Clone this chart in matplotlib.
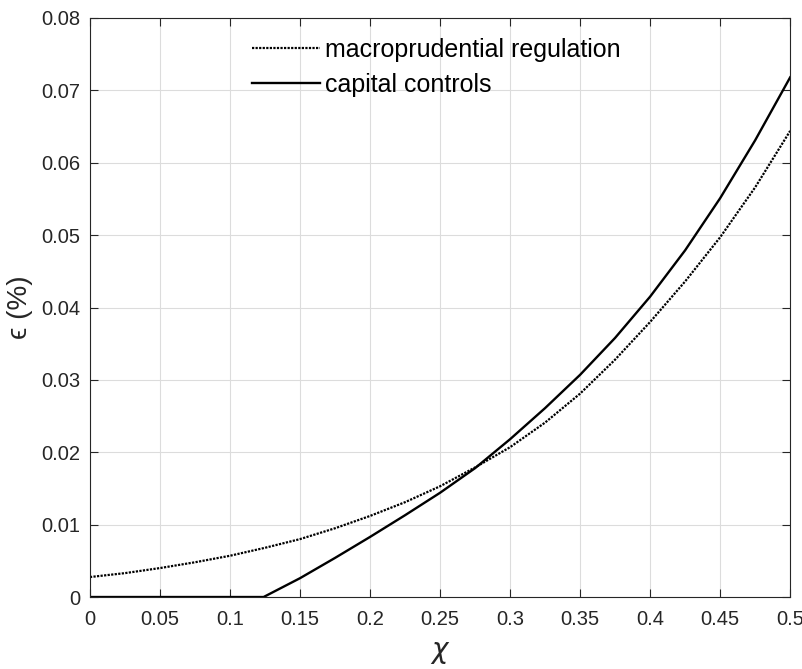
import numpy as np
import matplotlib.pyplot as plt

plt.rcParams['font.family'] = ['Liberation Sans', 'DejaVu Sans']
plt.rcParams['mathtext.fontset'] = 'dejavusans'

chi = [0.0, 0.025, 0.05, 0.075, 0.1, 0.125, 0.15, 0.175, 0.2, 0.225, 0.25,
       0.275, 0.3, 0.325, 0.35, 0.375, 0.4, 0.425, 0.45, 0.475, 0.5]

macroprudential = [0.00276, 0.0033, 0.0040, 0.0048, 0.0057, 0.0068, 0.0080,
                   0.0095, 0.0112, 0.0131, 0.0153, 0.0179, 0.0207, 0.0241,
                   0.0281, 0.0328, 0.0380, 0.0436, 0.0497, 0.0566, 0.0644]

capital_controls = [0.0, 0.0, 0.0, 0.0, 0.0, 0.0, 0.0026, 0.0054, 0.0083,
                    0.0113, 0.0144, 0.0178, 0.0218, 0.0261, 0.0307, 0.0358,
                    0.0415, 0.0479, 0.0551, 0.0631, 0.0718]

# the solid line leaves zero at chi = 0.125
chi_cc = chi[:5] + [0.124] + chi[6:]
cc = capital_controls[:5] + [0.0] + capital_controls[6:]

fig = plt.figure(figsize=(8.03, 6.69), dpi=100)
ax = fig.add_axes([0.112, 0.1076, 0.872, 0.8655])

ax.plot(chi, macroprudential, color="black", linestyle=(0, (1, 0.6)),
        linewidth=1.6, label="macroprudential regulation")
ax.plot(chi_cc, cc, color="black", linestyle="-", linewidth=1.7,
        label="capital controls")

ax.set_xlim(0, 0.5)
ax.set_ylim(0, 0.08)
ax.set_xticks(np.arange(0, 0.501, 0.05))
ax.set_xticklabels(["0", "0.05", "0.1", "0.15", "0.2", "0.25", "0.3",
                    "0.35", "0.4", "0.45", "0.5"])
ax.set_yticks(np.arange(0, 0.0801, 0.01))
ax.set_yticklabels(["0", "0.01", "0.02", "0.03", "0.04", "0.05", "0.06",
                    "0.07", "0.08"])

ax.grid(True, color="#dcdcdc", linewidth=0.8)
ax.set_axisbelow(True)
ax.tick_params(direction="in", length=6, width=0.8, top=True, right=True,
               labelsize=14.5, colors="#262626")
ax.tick_params(axis="x", pad=9)
ax.tick_params(axis="y", pad=7)
for s in ax.spines.values():
    s.set_color("#262626")
    s.set_linewidth(0.8)

ax.set_xlabel(r"$\chi$", fontsize=20, color="#262626")
ax.xaxis.set_label_coords(0.5, -0.075)
ax.set_ylabel("\u03f5 (%)", fontsize=20, color="#262626")
ax.yaxis.set_label_coords(-0.081, 0.5)

ax.legend(loc="upper left", bbox_to_anchor=(0.2, 1.005), frameon=False,
          fontsize=18, handlelength=2.7, handletextpad=0.2, labelspacing=0.45)

plt.savefig("out.png", dpi=100)
